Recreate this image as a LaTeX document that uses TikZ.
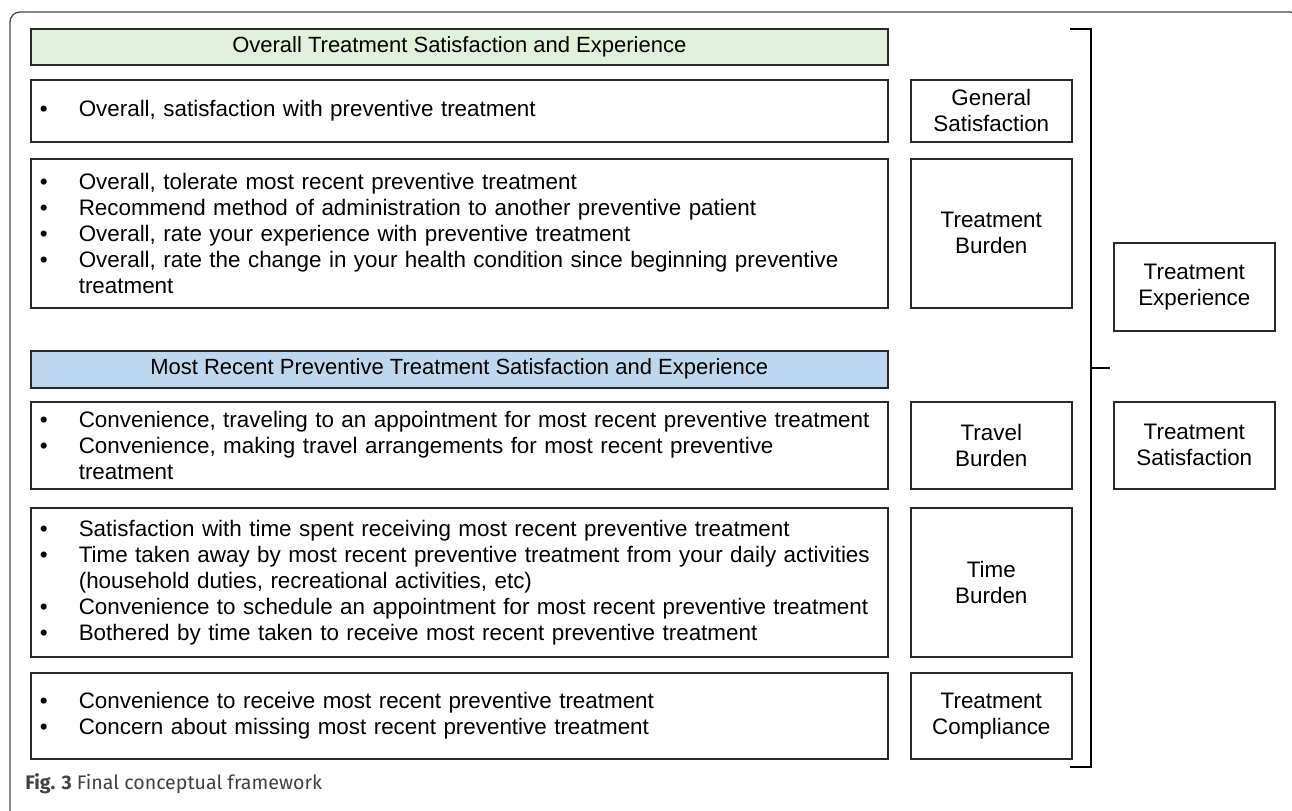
\documentclass[tikz,border=0pt]{standalone}
\usepackage{fontspec}
\setmainfont{Liberation Sans}
\newfontfamily\capfont{Fira Sans}
\usetikzlibrary{positioning}
\definecolor{overallcolor}{RGB}{226,239,218}
\definecolor{recentcolor}{RGB}{189,215,238}
\definecolor{framecolor}{RGB}{70,70,70}
\definecolor{boxline}{RGB}{40,40,40}
% one bulleted line with hanging indent
\newcommand{\bul}[1]{\hangindent=24pt\hangafter=1\noindent\makebox[24pt][l]{\hspace{4.5pt}\textbullet}#1\par}

\begin{document}
\begin{tikzpicture}[
    x=0.5pt, y=-0.5pt,
    font=\fontsize{11.2pt}{13pt}\selectfont,
    header/.style={draw=boxline, line width=0.8pt, fill=#1, anchor=north west, minimum width=428.5pt, inner sep=0pt, font=\fontsize{11pt}{13pt}\selectfont},
    items/.style={draw=boxline, line width=0.8pt, anchor=north west, minimum width=428.5pt, text width=428.5pt, inner xsep=0pt, inner ysep=0pt, align=left},
    facet/.style={draw=boxline, line width=0.8pt, anchor=north west, minimum width=80.5pt, inner sep=0pt, align=center},
    bracket/.style={line width=1.25pt, line cap=rect}
]
    \useasboundingbox (0,0) rectangle (1292,810);
    \clip (0,0) rectangle (1292,810);
    \draw[framecolor, line width=0.65pt, rounded corners=5pt] (10,840) -- (10,12) -- (1300,12) -- (1300,840);

    % overall part
    \node[header=overallcolor, minimum height=18pt] (overall) at (30,28) {Overall Treatment Satisfaction and Experience};
    \node[items, minimum height=31pt] (genitems) at (30,79) {%
        \bul{Overall, satisfaction with preventive treatment}};
    \node[items, minimum height=74.5pt] (burdenitems) at (30,158) {%
        \bul{Overall, tolerate most recent preventive treatment}
        \bul{Recommend method of administration to another preventive patient}
        \bul{Overall, rate your experience with preventive treatment}
        \bul{Overall, rate the change in your health condition since beginning preventive\newline treatment}};

    % most recent part
    \node[header=recentcolor, minimum height=18.5pt] (recent) at (30,350) {Most Recent Preventive Treatment Satisfaction and Experience};
    \node[items, minimum height=43.5pt] (travelitems) at (30,401) {%
        \bul{Convenience, traveling to an appointment for most recent preventive treatment}
        \bul{Convenience, making travel arrangements for most recent preventive\newline treatment}};
    \node[items, minimum height=74.5pt] (timeitems) at (30,507) {%
        \bul{Satisfaction with time spent receiving most recent preventive treatment}
        \bul{Time taken away by most recent preventive treatment from your daily activities\newline (household duties, recreational activities, etc)}
        \bul{Convenience to schedule an appointment for most recent preventive treatment}
        \bul{Bothered by time taken to receive most recent preventive treatment}};
    \node[items, minimum height=43pt] (complitems) at (30,672) {%
        \bul{Convenience to receive most recent preventive treatment}
        \bul{Concern about missing most recent preventive treatment}};

    % domains
    \node[facet, minimum height=31pt] (gensat) at (910,79) {General\\Satisfaction};
    \node[facet, minimum height=74.5pt] (burden) at (910,158) {Treatment\\Burden};
    \node[facet, minimum height=43.5pt] (travel) at (910,401) {Travel\\Burden};
    \node[facet, minimum height=74.5pt] (time) at (910,507) {Time\\Burden};
    \node[facet, minimum height=43pt] (compliance) at (910,672) {Treatment\\Compliance};

    % bracket and overall concepts
    \coordinate (brtop) at (1071,29);
    \coordinate (brbot) at (1071,767);
    \coordinate (brmid) at (1091,368);
    \draw[bracket] (brtop) -- ++(20,0) -- ([xshift=10pt]brbot) -- (brbot);
    \draw[bracket] (brmid) -- ++(18,0);
    \node[facet, minimum height=44pt] (experience) at (1113,242) {Treatment\\Experience};
    \node[facet, minimum height=43.5pt] (satisfaction) at (1113,401) {Treatment\\Satisfaction};

    \node[anchor=base west, inner sep=0pt, text=black!75, font=\capfont\fontsize{9.8pt}{11pt}\selectfont] (caption) at (25,789) {\textbf{Fig. 3} Final conceptual framework};
\end{tikzpicture}
\end{document}
